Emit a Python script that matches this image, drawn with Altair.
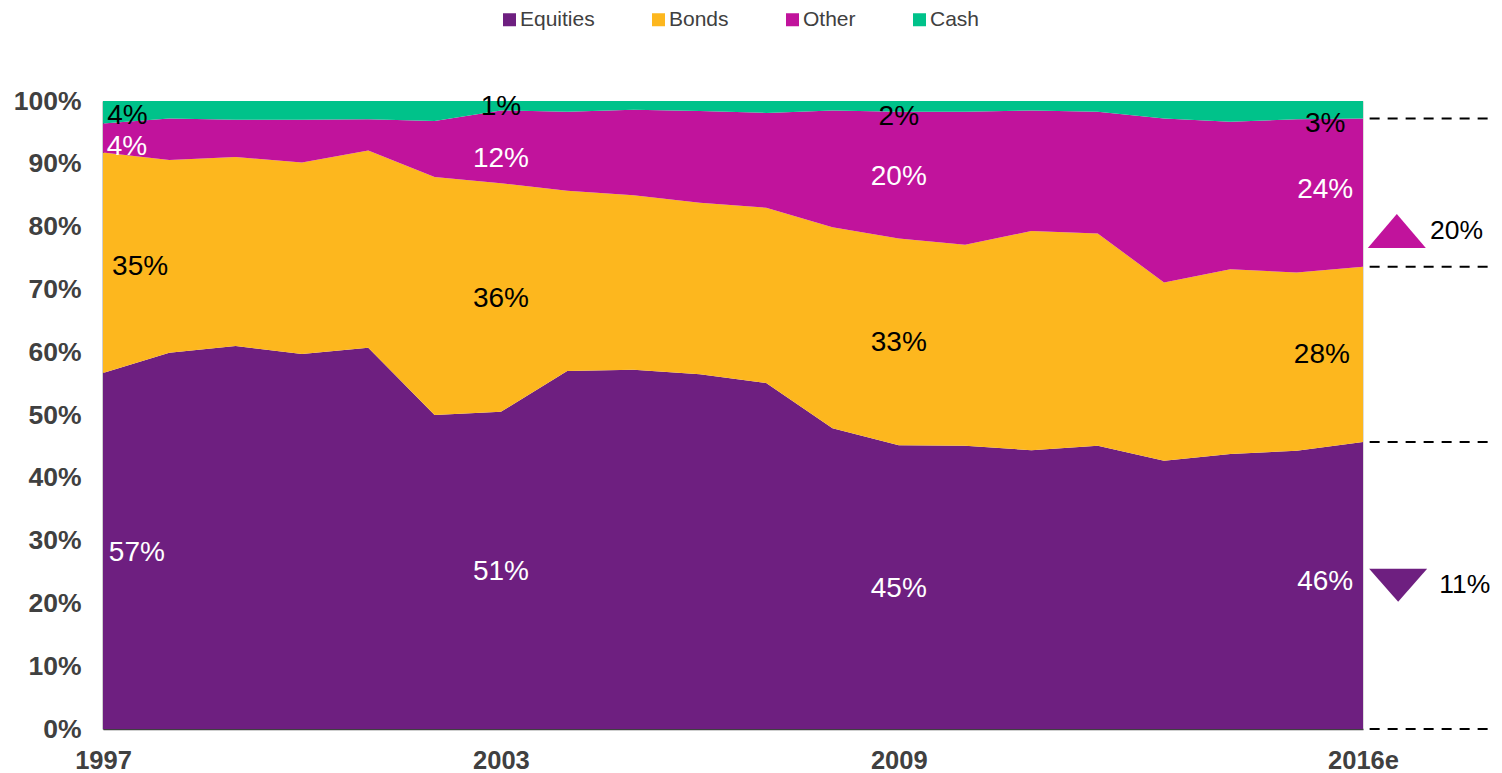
import altair as alt
import pandas as pd

FONT = "Liberation Sans"

years = list(range(1997, 2017))
series = ["Equities", "Bonds", "Other", "Cash"]
colors = ["#6E1F80", "#FDB71E", "#C1139C", "#00C28A"]

equities = [56.7, 59.9, 61.0, 59.7, 60.7, 50.0, 50.5, 57.0, 57.2, 56.5,
            55.1, 47.9, 45.2, 45.1, 44.4, 45.1, 42.7, 43.8, 44.3, 45.7]
bonds = [35.1, 30.7, 30.1, 30.5, 31.4, 37.9, 36.4, 28.7, 27.8, 27.3,
         27.9, 32.0, 32.9, 32.0, 34.9, 33.8, 28.4, 29.4, 28.4, 27.9]
other = [4.6, 6.6, 5.9, 6.8, 5.0, 8.9, 11.6, 12.6, 13.6, 14.6,
         15.1, 18.6, 20.2, 21.2, 19.2, 19.4, 26.1, 23.5, 24.4, 23.6]
cash = [3.6, 2.8, 3.0, 3.0, 2.9, 3.2, 1.5, 1.7, 1.4, 1.6,
        1.9, 1.5, 1.7, 1.7, 1.5, 1.7, 2.8, 3.3, 2.9, 2.8]

# in-chart value labels: (x year position, y %, text, colour)
lab_x = [1997.37, 1997.36, 1997.56, 1997.51,
         2003.0, 2003.0, 2003.0, 2003.0,
         2009.0, 2009.0, 2009.0, 2009.0,
         2015.43, 2015.43, 2015.38, 2015.43]
lab_y = [97.6, 92.7, 73.6, 28.1,
         99.0, 90.8, 68.5, 25.0,
         97.5, 87.9, 61.5, 22.3,
         96.3, 85.8, 59.5, 23.4]
lab_text = ["4%", "4%", "35%", "57%",
            "1%", "12%", "36%", "51%",
            "2%", "20%", "33%", "45%",
            "3%", "24%", "28%", "46%"]
lab_color = ["black", "white", "black", "white",
             "black", "white", "black", "white",
             "black", "white", "black", "white",
             "black", "white", "black", "white"]

# right-hand change annotations
chg_x = [2016.51, 2016.53]
chg_y = [79.3, 22.9]
chg_text = ["20%", "11%"]
chg_text_x = [2017.01, 2017.15]
dash_x0 = 2016.1
dash_x1 = 2018.07

x_ticks = [1997, 2003, 2009, 2016]

rows = []
for i, y in enumerate(years):
    for k, (s, vals) in enumerate(zip(series, [equities, bonds, other, cash])):
        rows.append({"year": y, "series": s, "value": vals[i], "k": k})
df = pd.DataFrame(rows)

xscale = alt.Scale(domain=[1997, 2016], nice=False, zero=False)
yscale = alt.Scale(domain=[0, 100], nice=False)

xaxis = alt.Axis(values=x_ticks, title=None, grid=False, ticks=False, tickSize=0,
                 labelExpr="datum.value == 2016 ? '2016e' : '' + datum.value",
                 labelFont=FONT, labelFontSize=25.5, labelFontWeight="bold",
                 labelColor="#404040", labelPadding=19, labelFlush=False,
                 labelOverlap=False, domainColor="#404040", domainWidth=1.5)
yaxis = alt.Axis(values=list(range(0, 101, 10)), title=None, grid=False, ticks=False,
                 tickSize=0, labelExpr="datum.value + '%'",
                 labelFont=FONT, labelFontSize=26.5, labelFontWeight="bold",
                 labelColor="#404040", labelPadding=22, labelFlush=False,
                 labelOverlap=False, domainColor="#404040", domainWidth=1.5)

area = alt.Chart(df).mark_area(opacity=1, strokeWidth=0).encode(
    x=alt.X("year:Q", scale=xscale, axis=xaxis),
    y=alt.Y("value:Q", stack="zero", scale=yscale, axis=yaxis),
    color=alt.Color("series:N",
                    scale=alt.Scale(domain=series, range=colors),
                    legend=alt.Legend(orient="none", legendX=396, legendY=-92,
                                      direction="horizontal", title=None,
                                      symbolType="square", symbolSize=169,
                                      symbolOpacity=1, symbolStrokeWidth=0,
                                      labelFont=FONT, labelFontSize=21,
                                      labelColor="#404040", labelOffset=0,
                                      columnPadding=53, padding=0)),
    order=alt.Order("k:Q", sort="ascending"),
)

labels_df = pd.DataFrame({"x": lab_x, "y": lab_y, "t": lab_text, "c": lab_color})
labels = alt.Chart(labels_df).mark_text(font=FONT, fontSize=28, baseline="middle",
                                        align="center").encode(
    x=alt.X("x:Q", scale=xscale),
    y=alt.Y("y:Q", scale=yscale),
    text="t:N",
    color=alt.Color("c:N", scale=None),
)

# dashed guide lines at the 2016 stack boundaries
e16 = equities[-1]
b16 = e16 + bonds[-1]
o16 = b16 + other[-1]
dash_df = pd.DataFrame({"x0": [dash_x0] * 4, "x1": [dash_x1] * 4,
                        "y": [0.0, e16, b16, o16]})
dashes = alt.Chart(dash_df).mark_rule(color="black", strokeWidth=2,
                                      strokeDash=[10, 8]).encode(
    x=alt.X("x0:Q", scale=xscale),
    x2="x1:Q",
    y=alt.Y("y:Q", scale=yscale),
)

up_df = pd.DataFrame({"x": [chg_x[0]], "y": [chg_y[0]]})
down_df = pd.DataFrame({"x": [chg_x[1]], "y": [chg_y[1]]})
up = alt.Chart(up_df).mark_point(filled=True, opacity=1, size=3364,
                                 shape="M-1,0.59L0,-0.59L1,0.59Z",
                                 color=colors[2]).encode(
    x=alt.X("x:Q", scale=xscale), y=alt.Y("y:Q", scale=yscale))
down = alt.Chart(down_df).mark_point(filled=True, opacity=1, size=3364,
                                     shape="M-1,-0.57L1,-0.57L0,0.57Z",
                                     color=colors[0]).encode(
    x=alt.X("x:Q", scale=xscale), y=alt.Y("y:Q", scale=yscale))

chg_df = pd.DataFrame({"x": chg_text_x, "y": chg_y, "t": chg_text})
chg_labels = alt.Chart(chg_df).mark_text(font=FONT, fontSize=26.5, baseline="middle",
                                         align="left", color="black").encode(
    x=alt.X("x:Q", scale=xscale), y=alt.Y("y:Q", scale=yscale), text="t:N")

chart = alt.layer(area, labels, dashes, up, down, chg_labels).properties(
    width=1260, height=628,
    autosize=alt.AutoSizeParams(type="none"),
    padding={"left": 95, "top": 93, "right": 131, "bottom": 52},
).configure_view(stroke="#a6a6a6", strokeWidth=1).configure(background="white")

chart.save("out.html", embed_options={"renderer": "svg", "actions": False})
